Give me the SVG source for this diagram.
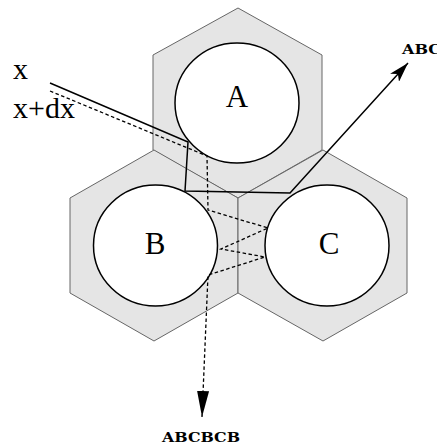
<svg xmlns="http://www.w3.org/2000/svg" width="437" height="446" viewBox="0 0 437 446">
<defs>
<style>
.hex{fill:#e5e5e5;stroke:#666;stroke-width:1}
.cell{fill:#fff;stroke:#000;stroke-width:1.5}
.lbl{font-family:"Liberation Serif","Times New Roman",serif;font-size:31px;fill:#000}
.out{font-family:"DejaVu Serif","Liberation Serif",serif;font-weight:bold;font-size:13.5px;fill:#000}
.ray{fill:none;stroke:#000;stroke-width:1.5}
.dash{fill:none;stroke:#000;stroke-width:1.3;stroke-dasharray:3.5 2.5}
</style>
<marker id="ah" markerWidth="20" markerHeight="12" refX="20" refY="6" orient="auto" markerUnits="userSpaceOnUse">
<path d="M0,0 L20,6 L0,12 L5,6 Z" fill="#000"/>
</marker>
<marker id="ah2" markerWidth="26" markerHeight="12" refX="26" refY="6" orient="auto" markerUnits="userSpaceOnUse">
<path d="M0,0 L26,6 L0,12 Z" fill="#000"/>
</marker>
</defs>
<g id="hexA"><polygon class="hex" points="238,8 322,55 322,150 238,198 153,150 153,55"/></g>
<g id="hexB"><polygon class="hex" points="154,150 238,198 238,293 154,341 70,293 70,198"/></g>
<g id="hexC"><polygon class="hex" points="323,150 407,198 407,293 323,341 238,293 238,198"/></g>
<g id="A"><ellipse class="cell" cx="237" cy="103" rx="62" ry="60"/><text class="lbl" x="237" y="107" text-anchor="middle">A</text></g>
<g id="B"><ellipse class="cell" cx="155.5" cy="245.5" rx="62" ry="60.5"/><text class="lbl" x="155" y="254" text-anchor="middle">B</text></g>
<g id="C"><ellipse class="cell" cx="327" cy="245.5" rx="62" ry="60.5"/><text class="lbl" x="329" y="254" text-anchor="middle">C</text></g>
<g id="labels">
<text class="lbl" x="13" y="79" style="font-size:30px">x</text>
<text class="lbl" x="13" y="118" style="font-size:30px">x+dx</text>
<text class="out" x="402" y="54" textLength="39" lengthAdjust="spacingAndGlyphs">ABC</text>
<text class="out" x="162" y="442" textLength="78" lengthAdjust="spacingAndGlyphs">ABCBCB</text>
</g>
<g id="connectors">
<polyline class="ray" points="50,83 188,142 185,191 290,193 408,63" marker-end="url(#ah)"/>
<polyline class="dash" points="50,91 207,156 208,210 268,228 221,249 265,257 208,275 202,417" marker-end="url(#ah2)"/>
</g>
</svg>
